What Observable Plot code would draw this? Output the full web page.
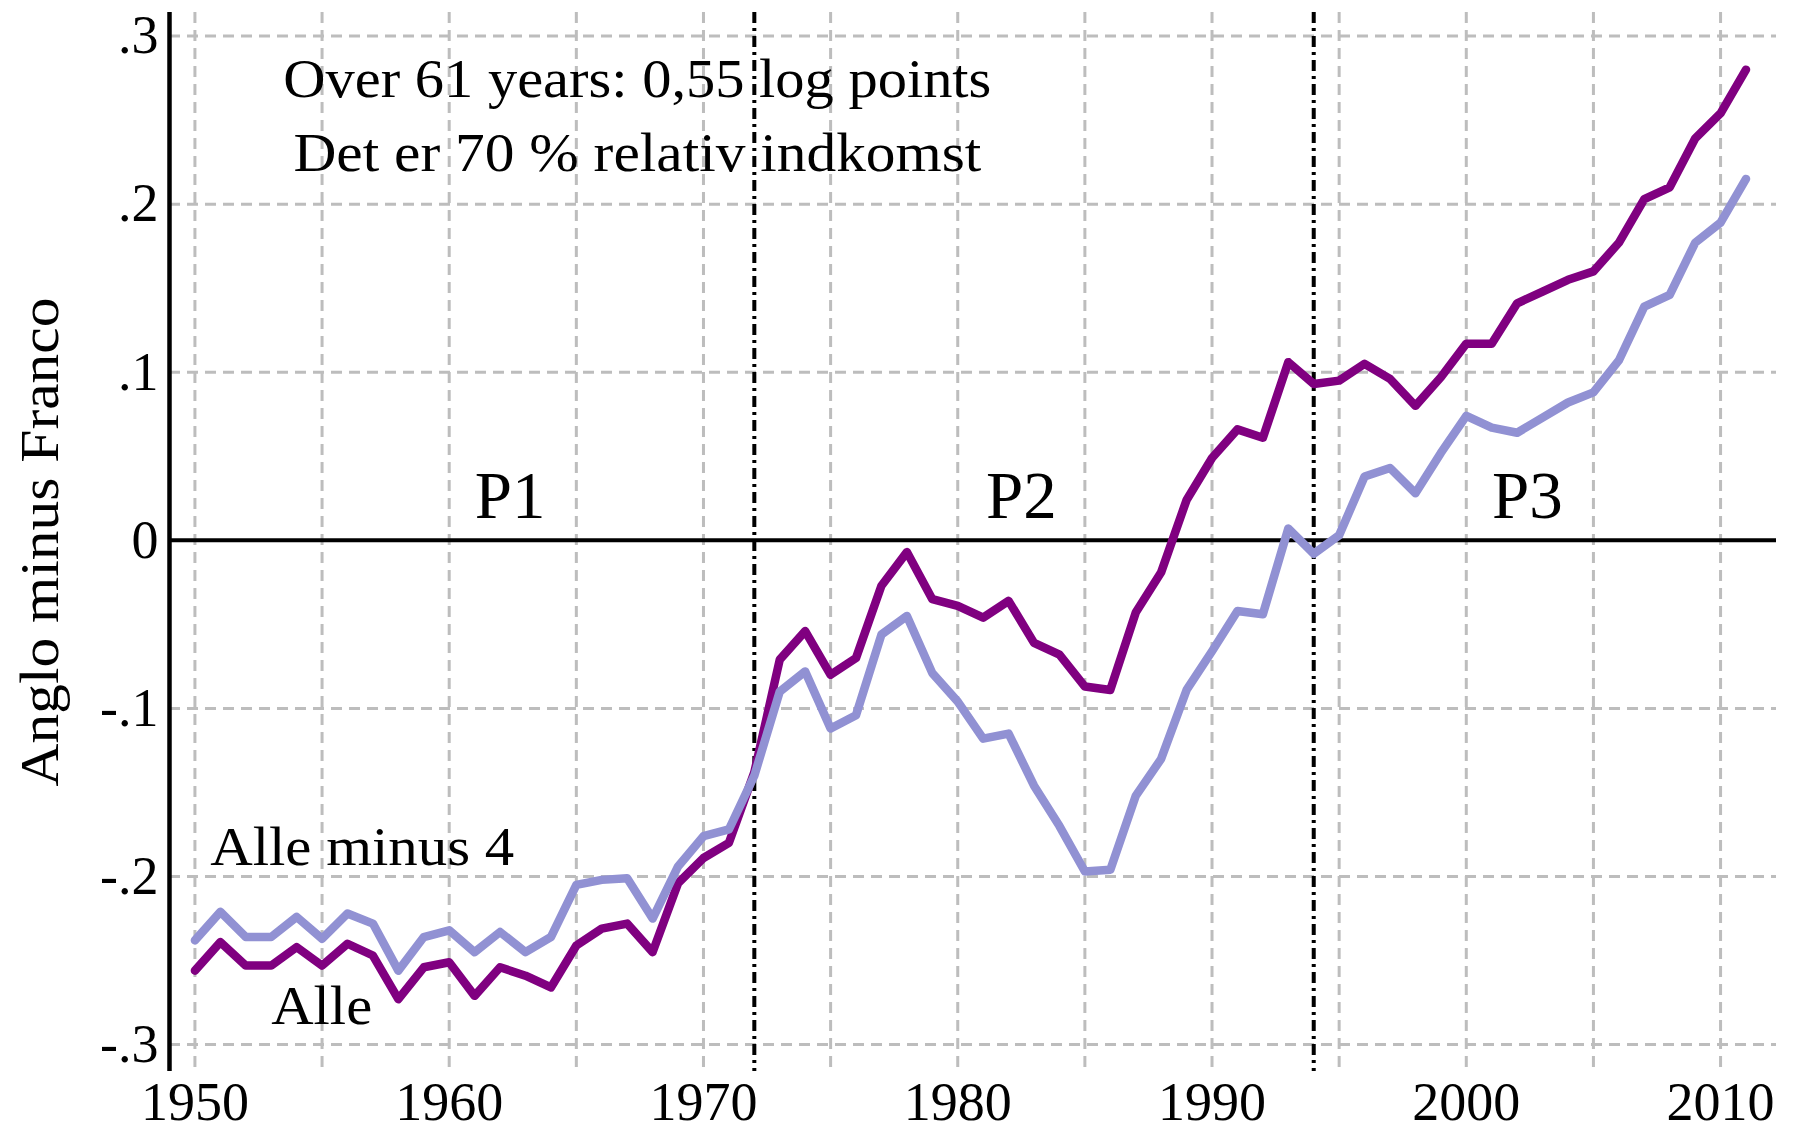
<!DOCTYPE html>
<html><head><meta charset="utf-8">
<script src="https://cdn.jsdelivr.net/npm/d3@7"></script>
<script src="https://cdn.jsdelivr.net/npm/@observablehq/plot@0.6"></script>
<style>
body{margin:0;background:#fff}
#chart svg{display:block;font-family:"Liberation Serif","Times New Roman",serif}
</style>
</head><body><div id="chart"></div>
<script>
const years = [1950,1951,1952,1953,1954,1955,1956,1957,1958,1959,
1960,1961,1962,1963,1964,1965,1966,1967,1968,1969,
1970,1971,1972,1973,1974,1975,1976,1977,1978,1979,
1980,1981,1982,1983,1984,1985,1986,1987,1988,1989,
1990,1991,1992,1993,1994,1995,1996,1997,1998,1999,
2000,2001,2002,2003,2004,2005,2006,2007,2008,2009,
2010,2011];
const alle = [-0.256,-0.239,-0.253,-0.253,-0.242,-0.253,-0.240,-0.247,-0.273,-0.254,
-0.251,-0.271,-0.254,-0.259,-0.266,-0.241,-0.231,-0.228,-0.245,-0.204,
-0.189,-0.180,-0.138,-0.071,-0.054,-0.080,-0.070,-0.027,-0.007,-0.035,
-0.039,-0.046,-0.036,-0.061,-0.068,-0.087,-0.089,-0.043,-0.019,0.024,
0.049,0.066,0.061,0.106,0.093,0.095,0.105,0.096,0.080,0.097,
0.117,0.117,0.141,0.148,0.155,0.160,0.177,0.203,0.210,0.239,
0.254,0.280];
const alleMinus4 = [-0.238,-0.221,-0.236,-0.236,-0.224,-0.237,-0.222,-0.228,-0.256,-0.236,
-0.232,-0.245,-0.233,-0.245,-0.236,-0.205,-0.202,-0.201,-0.225,-0.194,
-0.176,-0.172,-0.140,-0.090,-0.078,-0.112,-0.104,-0.056,-0.045,-0.079,
-0.096,-0.118,-0.115,-0.146,-0.170,-0.197,-0.196,-0.152,-0.130,-0.089,
-0.066,-0.042,-0.044,0.007,-0.008,0.003,0.038,0.043,0.028,0.052,
0.074,0.067,0.064,0.073,0.082,0.088,0.107,0.139,0.146,0.177,
0.189,0.215];
const periodBreaks = [1972, 1994];
const xTicks = [1950,1960,1970,1980,1990,2000,2010];
const xGrid = [1950,1955,1960,1965,1970,1975,1980,1985,1990,1995,2000,2005,2010];
const yTicks = [-0.3,-0.2,-0.1,0,0.1,0.2,0.3];
const yTickLabels = ["-.3","-.2","-.1","0",".1",".2",".3"];
const yGrid = [-0.3,-0.2,-0.1,0.1,0.2,0.3];
const periodLabels = [
  {text:"P1", x:1962.4, y:0.013},
  {text:"P2", x:1982.5, y:0.013},
  {text:"P3", x:2002.4, y:0.013}
];
const noteLines = [
  {text:"Over 61 years: 0,55 log points", x:1967.4, y:0.264},
  {text:"Det er 70 % relativ indkomst", x:1967.4, y:0.220}
];
const seriesLabels = [
  {text:"Alle minus 4", x:1950.6, y:-0.193},
  {text:"Alle", x:1953.0, y:-0.2875}
];
const yLabel = "Anglo minus Franco";
const xDomain = [1949, 2012.2];
const yDomain = [-0.316, 0.314];
const colorAlle = "#800080";
const colorMinus4 = "#9191d3";
// rendered widths of the serif texts (the reference typeface is wider than Liberation Serif)
const textWidths = {
  "Anglo minus Franco": 489,
  "Over 61 years: 0,55 log points": 708,
  "Det er 70 % relativ indkomst": 688,
  "Alle minus 4": 304,
  "Alle": 101
};

const table = years.map((yr, i) => ({year: yr, alle: alle[i], minus4: alleMinus4[i]}));
const font = "Liberation Serif";
const gridStyle = {stroke: "#bdbdbd", strokeOpacity: 1, strokeWidth: 3, strokeDasharray: "11,7"};

const chart = Plot.plot({
  width: 1797,
  height: 1132,
  marginLeft: 169,
  marginRight: 21,
  marginTop: 12,
  marginBottom: 61,
  style: {fontFamily: font, background: "#fff"},
  x: {domain: xDomain},
  y: {domain: yDomain},
  marks: [
    Plot.gridX(xGrid, gridStyle),
    Plot.gridY(yGrid, gridStyle),
    Plot.ruleY([0], {stroke: "black", strokeWidth: 4}),
    Plot.ruleX(periodBreaks, {stroke: "black", strokeWidth: 4, strokeDasharray: "11,5,3,5"}),
    Plot.ruleX([xDomain[0]], {stroke: "black", strokeWidth: 4.5}),
    Plot.line(table, {x: "year", y: "alle", stroke: colorAlle, strokeWidth: 8.5}),
    Plot.line(table, {x: "year", y: "minus4", stroke: colorMinus4, strokeWidth: 8.5}),
    Plot.axisX(xTicks, {tickSize: 0, tickPadding: 10, fontSize: 54, tickFormat: d => String(d), label: null, fill: "black"}),
    Plot.axisY(yTicks, {tickSize: 0, tickPadding: 11, fontSize: 54, tickFormat: d => yTickLabels[yTicks.indexOf(d)], label: null, fill: "black"}),
    Plot.text([yLabel], {frameAnchor: "left", dx: -129, rotate: -90, textAnchor: "middle", lineAnchor: "middle", fontSize: 54, fill: "black", text: d => d}),
    Plot.text(periodLabels, {x: "x", y: "y", text: "text", fontSize: 67, lineAnchor: "bottom", textAnchor: "middle", fill: "black"}),
    Plot.text(noteLines, {x: "x", y: "y", text: "text", fontSize: 55, lineAnchor: "bottom", textAnchor: "middle", fill: "black"}),
    Plot.text(seriesLabels, {x: "x", y: "y", text: "text", fontSize: 54, lineAnchor: "bottom", textAnchor: "start", fill: "black"})
  ]
});
chart.querySelectorAll("text").forEach(t => {
  const w = textWidths[t.textContent];
  if (w) {
    t.setAttribute("textLength", w);
    t.setAttribute("lengthAdjust", "spacingAndGlyphs");
  }
});
document.getElementById("chart").appendChild(chart);
</script>
</body></html>
